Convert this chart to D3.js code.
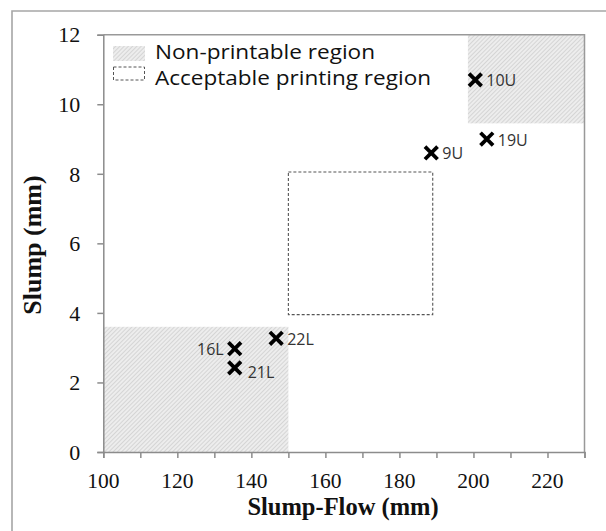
<!DOCTYPE html>
<html><head><meta charset="utf-8">
<script src="https://cdn.jsdelivr.net/npm/d3@7"></script>
<style>html,body{margin:0;padding:0;background:#fff;}svg{display:block;}</style>
</head><body>
<svg id="chart" width="606" height="531"></svg>
<script>
// Data
const pointNames = ["16L", "21L", "22L", "9U", "19U", "10U"];
const slumpFlow  = [135.5, 135.5, 146.7, 188.6, 203.6, 200.5];
const slump      = [2.97, 2.42, 3.27, 8.6, 9.0, 10.7];
const labelSide  = ["left", "rightLow", "right", "right", "right", "right"];
// regions: [xMin, xMax, yMin, yMax]
const nonPrintable = [[100, 150, 0, 3.6], [198.5, 230, 9.45, 12]];
const acceptable   = [150, 189, 3.95, 8.05];
const xTicks = [100, 120, 140, 160, 180, 200, 220];
const xMinorTicks = [100, 110, 120, 130, 140, 150, 160, 170, 180, 190, 200, 210, 220, 230];
const yTicks = [0, 2, 4, 6, 8, 10, 12];
const legendLabels = ["Non-printable region", "Acceptable printing region"];

const svg = d3.select("#chart");
const L = 103.3, R = 584.5, T = 34.7, B = 452;
const x = d3.scaleLinear().domain([100, 230]).range([L, R]);
const y = d3.scaleLinear().domain([0, 12]).range([B, T]);
const serif = "'Liberation Serif','Times New Roman',serif";
const sans = "'Open Sans','DejaVu Sans',sans-serif";

// outer frame
svg.append("path").attr("d", "M12,540 L12,11 L620,11").attr("fill", "none")
  .attr("stroke", "#a6a6a6").attr("stroke-width", 1.6);

const defs = svg.append("defs");
const pat = defs.append("pattern").attr("id", "hatch").attr("patternUnits", "userSpaceOnUse")
  .attr("width", 3).attr("height", 3).attr("patternTransform", "rotate(45)");
pat.append("rect").attr("width", 3).attr("height", 3).attr("fill", "#ededed");
pat.append("line").attr("x1", 0).attr("y1", 0).attr("x2", 0).attr("y2", 3)
  .attr("stroke", "#c8c8c8").attr("stroke-width", 1.3);

// non-printable regions
svg.selectAll("rect.np").data(nonPrintable).enter().append("rect").attr("class", "np")
  .attr("x", d => x(d[0])).attr("y", d => y(d[3]))
  .attr("width", d => x(d[1]) - x(d[0])).attr("height", d => y(d[2]) - y(d[3]))
  .attr("fill", "url(#hatch)");

// acceptable region
svg.append("rect").attr("x", x(acceptable[0])).attr("y", y(acceptable[3]))
  .attr("width", x(acceptable[1]) - x(acceptable[0])).attr("height", y(acceptable[2]) - y(acceptable[3]))
  .attr("fill", "none").attr("stroke", "#555").attr("stroke-width", 1.1).attr("stroke-dasharray", "3,2");

// plot box top/right
svg.append("path").attr("d", `M${L},${T} L${R},${T} L${R},${B}`).attr("fill", "none")
  .attr("stroke", "#999").attr("stroke-width", 1.5);

// axes
const xAxis = svg.append("g").attr("transform", `translate(0,${B})`)
  .call(d3.axisBottom(x).tickValues(xMinorTicks).tickSize(6).tickFormat(""));
xAxis.select(".domain").attr("stroke", "#8c8c8c").attr("stroke-width", 1.5);
xAxis.selectAll(".tick line").attr("stroke", "#8c8c8c").attr("stroke-width", 1.5);
svg.selectAll("text.xt").data(xTicks).enter().append("text").attr("class", "xt")
  .attr("x", d => x(d)).attr("y", 488).attr("text-anchor", "middle")
  .attr("font-family", serif).attr("font-size", 21.5)
  .attr("fill", "#111").text(d => d);

const yAxis = svg.append("g").attr("transform", `translate(${L},0)`)
  .call(d3.axisLeft(y).tickValues(yTicks).tickSize(6).tickPadding(17).tickFormat(d3.format("d")));
yAxis.select(".domain").attr("stroke", "#8c8c8c").attr("stroke-width", 1.5);
yAxis.selectAll(".tick line").attr("stroke", "#8c8c8c").attr("stroke-width", 1.5);
yAxis.selectAll(".tick text").attr("font-family", serif)
  .attr("font-size", 22).attr("fill", "#111").attr("dy", "0.33em");

// axis titles
svg.append("text").attr("x", 343).attr("y", 515).attr("text-anchor", "middle")
  .attr("font-family", serif).attr("font-size", 24.5)
  .attr("font-weight", "bold").attr("fill", "#111").text("Slump-Flow (mm)");
svg.append("text").attr("transform", "translate(41,245) rotate(-90)").attr("text-anchor", "middle")
  .attr("font-family", serif).attr("font-size", 26)
  .attr("font-weight", "bold").attr("fill", "#111").text("Slump (mm)");

// points
const pts = pointNames.map((n, i) => ({ n, x: slumpFlow[i], y: slump[i], side: labelSide[i] }));
const s = 6.3;
svg.selectAll("path.pt").data(pts).enter().append("path").attr("class", "pt")
  .attr("d", d => {
    const cx = x(d.x), cy = y(d.y);
    return `M${cx - s},${cy - s}L${cx + s},${cy + s}M${cx - s},${cy + s}L${cx + s},${cy - s}`;
  })
  .attr("stroke", "#000").attr("stroke-width", 3.8).attr("fill", "none");
svg.selectAll("text.pl").data(pts).enter().append("text").attr("class", "pl")
  .attr("x", d => d.side === "left" ? x(d.x) - 11 : x(d.x) + (d.side === "rightLow" ? 13 : 11))
  .attr("y", d => y(d.y) + (d.side === "rightLow" ? 10 : 6.5))
  .attr("text-anchor", d => d.side === "left" ? "end" : "start")
  .attr("font-family", sans).attr("font-size", 16)
  .attr("fill", "#333").text(d => d.n);

// legend
const lg = svg.append("g");
lg.append("rect").attr("x", 113).attr("y", 46).attr("width", 32).attr("height", 15).attr("fill", "url(#hatch)");
lg.append("rect").attr("x", 113.5).attr("y", 67).attr("width", 31).attr("height", 13)
  .attr("fill", "none").attr("stroke", "#555").attr("stroke-width", 1).attr("stroke-dasharray", "3,2");
const legendWidths = [220, 276];
lg.selectAll("text").data(legendLabels).enter().append("text")
  .attr("x", 155).attr("y", (d, i) => 58.5 + i * 26.5)
  .attr("font-family", sans).attr("font-size", 20)
  .attr("textLength", (d, i) => legendWidths[i]).attr("lengthAdjust", "spacingAndGlyphs")
  .attr("fill", "#111").text(d => d);
</script>
</body></html>
